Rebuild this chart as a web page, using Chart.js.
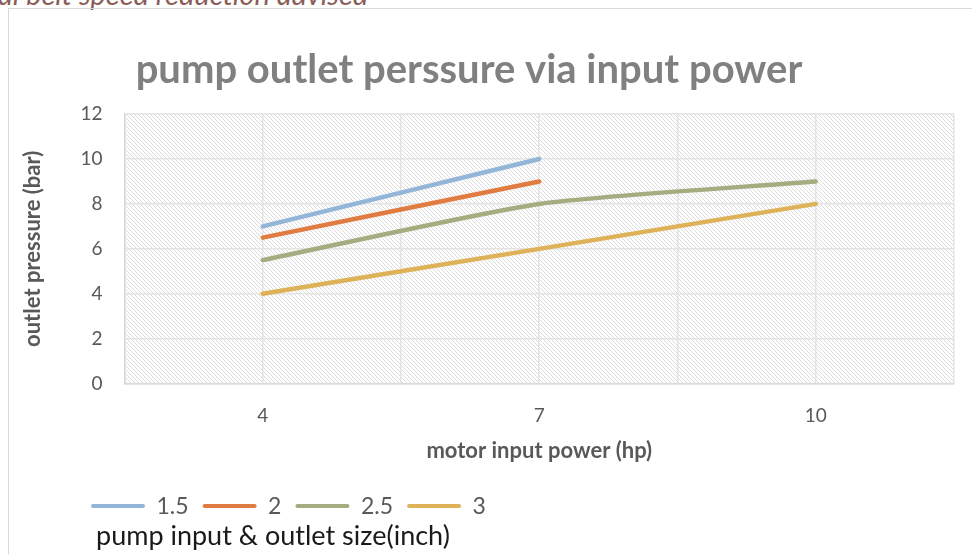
<!DOCTYPE html>
<html lang="en">
<head>
  <meta charset="UTF-8" />
  <title>pump outlet perssure via input power</title>
  <style>
    body {
      margin: 0;
      background: #fff;
      width: 972px;
      height: 554px;
      overflow: hidden;
      position: relative;
    }
    .note {
      position: absolute;
      left: -2px;
      top: -24px;
      font: italic 29px Lato, sans-serif;
      color: #8a5d57;
      white-space: nowrap;
    }
    .frame {
      position: absolute;
      left: 8px;
      top: 8px;
      width: 1100px;
      height: 700px;
      border: 1.5px solid #d9d9d9;
      box-sizing: border-box;
    }
    canvas {
      position: absolute;
      left: 0;
      top: 0;
    }
  </style>
  <script src="https://cdn.jsdelivr.net/npm/chart.js"></script>
</head>
<body>
  <div class="note">al belt speed reduction advised</div>
  <div class="frame"></div>
  <canvas id="pumpChart" width="972" height="554"></canvas>

  <script>
    // data
    const powerHp = [4, 7, 10];
    const sizeLabels = ['1.5', '2', '2.5', '3'];
    const pressure15 = [7, 10, null];
    const pressure2 = [6.5, 9, null];
    const pressure25 = [5.5, 8, 9];
    const pressure3 = [4, 6, 8];
    const xGridValues = [2.5, 4, 5.5, 7, 8.5, 10, 11.5];
    const yTickValues = [0, 2, 4, 6, 8, 10, 12];

    const captionText = 'pump input & outlet size(inch)';
    const lineColors = ['#93b5d7', '#e07c42', '#a4ac80', '#deb258'];
    const seriesValues = [pressure15, pressure2, pressure25, pressure3];

    // little diagonal hatch tile for the plot background
    const hatchTile = document.createElement('canvas');
    hatchTile.width = 4;
    hatchTile.height = 4;
    const tctx = hatchTile.getContext('2d');
    tctx.fillStyle = '#dcdcdc';
    for (let i = 0; i < 4; i++) tctx.fillRect(i, i, 1, 1);

    const hatchPlugin = {
      id: 'hatch',
      beforeDraw(chart) {
        const { ctx, chartArea: a } = chart;
        ctx.save();
        ctx.fillStyle = ctx.createPattern(hatchTile, 'repeat');
        ctx.fillRect(a.left, a.top, a.right - a.left, a.bottom - a.top);
        ctx.restore();
      }
    };

    // legend + caption sit left of centre in the original, title a bit left too
    const placeBoxes = {
      id: 'placeBoxes',
      afterLayout(chart) {
        const shift = (box, dx) => { box.left += dx; box.right += dx; };
        if (chart.legend) shift(chart.legend, 61);
        if (chart.titleBlock) shift(chart.titleBlock, -25);
        chart.boxes.forEach(b => {
          if (b !== chart.titleBlock && b.options && b.options.text === captionText) shift(b, 80);
        });
      }
    };

    const datasets = sizeLabels.map((name, k) => ({
      label: name,
      data: powerHp.map((x, i) => ({ x: x, y: seriesValues[k][i] })),
      borderColor: lineColors[k],
      backgroundColor: lineColors[k],
      borderWidth: 4.5,
      borderCapStyle: 'round',
      tension: 0.2,
      pointRadius: 0,
      pointHoverRadius: 0
    }));

    const ctx = document.getElementById('pumpChart').getContext('2d');
    new Chart(ctx, {
      type: 'line',
      data: { datasets: datasets },
      plugins: [hatchPlugin, placeBoxes],
      options: {
        responsive: false,
        animation: false,
        devicePixelRatio: 1,
        layout: { padding: { left: 16, right: 0, top: 0, bottom: 0 } },
        scales: {
          x: {
            type: 'linear',
            min: 2.5,
            max: 11.5,
            afterBuildTicks: scale => { scale.ticks = xGridValues.map(v => ({ value: v })); },
            ticks: {
              autoSkip: false,
              maxRotation: 0,
              padding: 18,
              color: '#595959',
              font: { family: 'Lato', size: 19, lineHeight: 1.5 },
              callback: v => powerHp.includes(v) ? String(v) : ''
            },
            grid: { color: '#e4e4e4', lineWidth: 1.5, drawTicks: false },
            border: { color: '#d9d9d9', width: 1.5 },
            title: {
              display: true,
              text: 'motor input power (hp)',
              color: '#595959',
              font: { family: 'Lato', size: 22, weight: 'bold' },
              padding: { top: -10, bottom: 16 }
            }
          },
          y: {
            min: 0,
            max: 12,
            afterBuildTicks: scale => { scale.ticks = yTickValues.map(v => ({ value: v })); },
            ticks: {
              padding: 22,
              color: '#595959',
              font: { family: 'Lato', size: 19 }
            },
            grid: { color: '#e4e4e4', lineWidth: 1.5, drawTicks: false },
            border: { color: '#d9d9d9', width: 1.5 },
            title: {
              display: true,
              text: 'outlet pressure (bar)',
              color: '#595959',
              font: { family: 'Lato', size: 22, weight: 'bold' },
              padding: { top: 4, bottom: 12 }
            }
          }
        },
        plugins: {
          title: {
            display: true,
            text: 'pump outlet perssure via input power',
            color: '#808080',
            font: { family: 'Lato', size: 40, weight: 'bold' },
            padding: { top: 46, bottom: 20 }
          },
          legend: {
            position: 'bottom',
            align: 'start',
            labels: {
              color: '#595959',
              font: { family: 'Lato', size: 23 },
              boxWidth: 54,
              boxHeight: 4,
              padding: 14,
              useBorderRadius: true,
              generateLabels(chart) {
                return Chart.defaults.plugins.legend.labels.generateLabels(chart)
                  .map(l => ({ ...l, lineWidth: 0, borderRadius: 2 }));
              }
            }
          },
          subtitle: {
            display: true,
            position: 'bottom',
            align: 'start',
            text: captionText,
            color: '#1a1a1a',
            font: { family: 'Lato', size: 27 },
            padding: { top: -8, bottom: 2 }
          },
          tooltip: { enabled: false }
        }
      }
    });
  </script>
</body>
</html>
